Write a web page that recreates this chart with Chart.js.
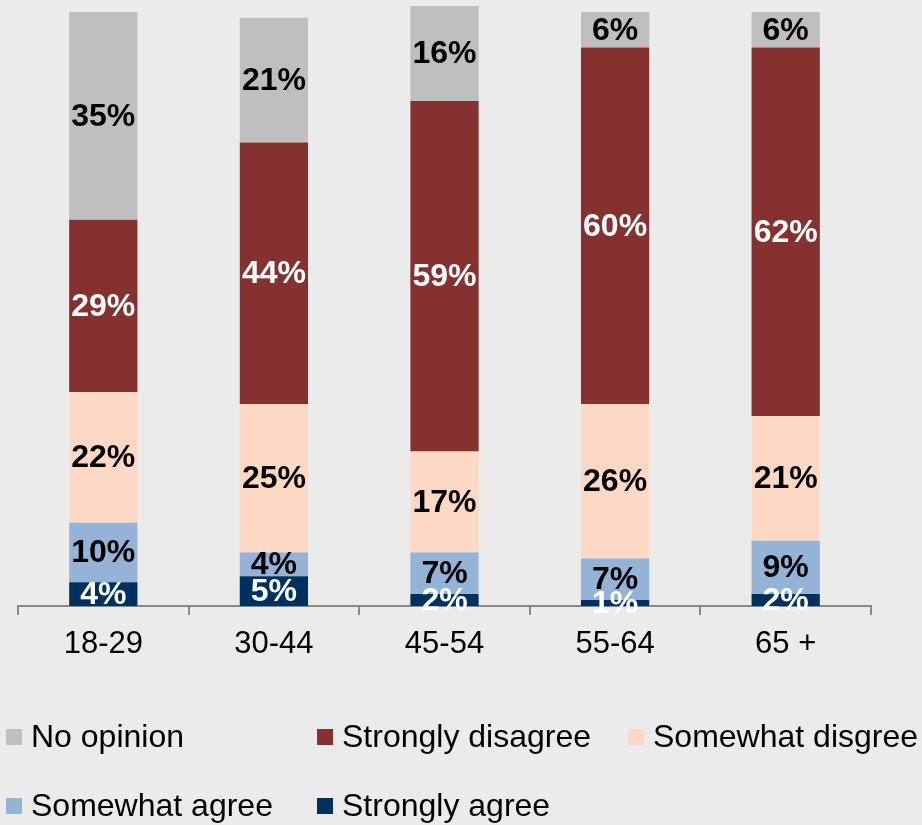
<!DOCTYPE html>
<html>
<head>
  <meta charset="UTF-8">
  <title>Opinion by age group</title>
  <script src="https://cdn.jsdelivr.net/npm/chart.js"></script>
  <style>
    html, body {
      margin: 0;
      padding: 0;
      background: #ebebeb;
    }
  </style>
</head>
<body>

  <canvas id="myChart" width="922" height="825"></canvas>

  <script>
    const ageGroups = ['18-29', '30-44', '45-54', '55-64', '65 +'];
    const stronglyAgree = [4, 5, 2, 1, 2];
    const somewhatAgree = [10, 4, 7, 7, 9];
    const somewhatDisagree = [22, 25, 17, 26, 21];
    const stronglyDisagree = [29, 44, 59, 60, 62];
    const noOpinion = [35, 21, 16, 6, 6];

    const FONT = '"Liberation Sans", Arial, sans-serif';

    // bottom to top
    const seriesNames = ['Strongly agree', 'Somewhat agree', 'Somewhat disgree', 'Strongly disagree', 'No opinion'];
    const seriesData = [stronglyAgree, somewhatAgree, somewhatDisagree, stronglyDisagree, noOpinion];
    const seriesColors = ['#00305e', '#95b3d7', '#fcd8c5', '#85312f', '#bfbfbf'];
    const labelColors = ['#ffffff', '#000000', '#000000', '#ffffff', '#000000'];

    const bgPlugin = {
      id: 'bg',
      beforeDraw(chart) {
        const ctx = chart.ctx;
        ctx.save();
        ctx.fillStyle = '#ebebeb';
        ctx.fillRect(0, 0, chart.width, chart.height);
        ctx.restore();
      }
    };

    const valueLabels = {
      id: 'valueLabels',
      afterDatasetsDraw(chart) {
        const ctx = chart.ctx;
        ctx.save();
        ctx.font = 'bold 32px ' + FONT;
        ctx.textAlign = 'center';
        ctx.textBaseline = 'middle';
        chart.data.datasets.forEach((ds, d) => {
          const meta = chart.getDatasetMeta(d);
          meta.data.forEach((bar, i) => {
            ctx.fillStyle = labelColors[d];
            ctx.fillText(ds.data[i] + '%', bar.x, (bar.y + bar.base) / 2 + 1);
          });
        });
        ctx.restore();
      }
    };

    // legend laid out as a 3-column grid, top series first
    const gridLegend = {
      id: 'gridLegend',
      afterDraw(chart) {
        const ctx = chart.ctx;
        const items = chart.data.datasets.slice().reverse();
        ctx.save();
        ctx.font = '32px ' + FONT;
        ctx.textBaseline = 'middle';
        ctx.textAlign = 'left';
        items.forEach((ds, k) => {
          const col = k % 3;
          const row = Math.floor(k / 3);
          const x = 6 + col * 311;
          const y = 737 + row * 69;
          ctx.fillStyle = ds.backgroundColor;
          ctx.fillRect(x, y - 8, 16, 16);
          ctx.fillStyle = '#000';
          ctx.fillText(ds.label, x + 25, y + 1);
        });
        ctx.restore();
      }
    };

    new Chart(document.getElementById('myChart'), {
      type: 'bar',
      data: {
        labels: ageGroups,
        datasets: seriesNames.map((name, i) => ({
          label: name,
          data: seriesData[i],
          backgroundColor: seriesColors[i],
          borderWidth: 0,
          categoryPercentage: 1,
          barPercentage: 0.4
        }))
      },
      options: {
        responsive: false,
        animation: false,
        layout: {
          padding: { left: 18, right: 51, top: 0, bottom: 0 }
        },
        scales: {
          x: {
            stacked: true,
            afterFit(scale) { scale.height = 219; },
            grid: {
              display: true,
              offset: true,
              drawOnChartArea: false,
              drawTicks: true,
              tickLength: 9,
              color: '#898989',
              lineWidth: 2
            },
            border: { display: true, color: '#898989', width: 2 },
            ticks: {
              color: '#000',
              padding: 11,
              font: { family: FONT, size: 31 }
            }
          },
          y: {
            stacked: true,
            display: false,
            min: 0,
            max: 102
          }
        },
        plugins: {
          legend: { display: false },
          tooltip: { enabled: false }
        }
      },
      plugins: [bgPlugin, valueLabels, gridLegend]
    });
  </script>

</body>
</html>
